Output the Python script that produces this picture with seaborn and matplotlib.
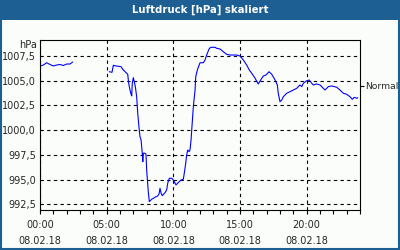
import numpy as np
import pandas as pd
import matplotlib
matplotlib.use("Agg")
import matplotlib.pyplot as plt
import matplotlib.transforms as mtransforms
from matplotlib.patches import Rectangle
import seaborn as sns

# --- data (hours since 08.02.18 00:00, pressure hPa) ---
seg1_hours = [0.05, 0.25, 0.5, 0.75, 1.0, 1.25, 1.5, 1.75, 2.0, 2.25, 2.45]
seg1_values = [1006.49, 1006.59, 1006.82, 1006.64, 1006.49, 1006.59, 1006.64,
               1006.54, 1006.69, 1006.69, 1006.89]

seg2_hours = [5.20, 5.40, 5.50, 5.70, 6.08, 6.20, 6.38, 6.58, 6.65, 6.75, 6.83,
              6.88, 6.92, 7.00, 7.07, 7.15, 7.25, 7.33, 7.43, 7.50, 7.58, 7.67,
              7.71, 7.75, 7.88, 7.95, 8.00, 8.12, 8.20, 8.38, 8.63, 8.83, 8.93,
              9.00, 9.08, 9.17, 9.38, 9.50, 9.58, 9.70, 9.88, 10.00, 10.20, 10.37,
              10.58, 10.75, 10.82, 10.93, 11.00, 11.08, 11.18, 11.25, 11.33, 11.38,
              11.50, 11.55, 11.63, 11.68, 11.80, 12.00, 12.25, 12.38, 12.50, 12.68,
              12.80, 13.13, 13.25, 13.50, 13.75, 14.00, 14.25, 14.50, 14.75, 15.00,
              15.25, 15.50, 15.70, 15.88, 16.13, 16.37, 16.55, 16.75, 16.95, 17.18,
              17.38, 17.63, 17.80, 17.87, 18.00, 18.13, 18.25, 18.50, 18.75, 19.00,
              19.25, 19.50, 19.63, 19.75, 20.00, 20.20, 20.38, 20.50, 20.75, 21.00,
              21.25, 21.38, 21.62, 21.88, 22.25, 22.50, 22.75, 23.00, 23.25, 23.42,
              23.57, 23.75, 23.83]
seg2_values = [1005.91, 1005.85, 1006.56, 1006.49, 1006.42, 1006.16, 1005.91,
               1005.65, 1004.74, 1004.06, 1003.63, 1003.46, 1004.74, 1005.31,
               1004.90, 1004.40, 1003.38, 1001.71, 1000.19, 999.34, 999.01, 997.66,
               996.81, 997.66, 997.66, 997.56, 995.97, 993.78, 992.77, 993.01,
               993.21, 993.34, 993.55, 994.12, 993.62, 993.37, 993.68, 993.95,
               994.63, 995.13, 995.13, 994.96, 994.46, 994.69, 994.96, 995.03,
               995.64, 996.65, 997.49, 997.99, 997.82, 997.99, 999.01, 1000.02,
               1002.37, 1003.05, 1004.06, 1005.41, 1006.08, 1006.82, 1006.82,
               1007.10, 1007.60, 1008.21, 1008.38, 1008.38, 1008.28, 1008.21,
               1007.93, 1007.67, 1007.60, 1007.60, 1007.60, 1007.50, 1007.10,
               1006.59, 1006.08, 1005.75, 1005.25, 1004.67, 1005.07, 1005.48,
               1005.58, 1005.91, 1005.65, 1005.07, 1004.57, 1003.73, 1002.88,
               1003.05, 1003.38, 1003.73, 1003.89, 1004.06, 1004.23, 1004.57,
               1004.40, 1004.74, 1005.00, 1005.07, 1004.74, 1004.57, 1004.67,
               1004.57, 1004.23, 1004.06, 1004.40, 1004.47, 1004.34, 1004.06,
               1003.73, 1003.63, 1003.38, 1003.12, 1003.32, 1003.22, 1003.28]

y_ticks = [992.5, 995.0, 997.5, 1000.0, 1002.5, 1005.0, 1007.5]
y_tick_labels = ["992,5", "995,0", "997,5", "1000,0", "1002,5", "1005,0", "1007,5"]
x_ticks = [0, 5, 10, 15, 20]
x_tick_labels = ["00:00\n08.02.18", "05:00\n08.02.18", "10:00\n08.02.18",
                 "15:00\n08.02.18", "20:00\n08.02.18"]
normal_value = 1004.47
title = "Luftdruck [hPa] skaliert"

df = pd.concat([
    pd.DataFrame({"h": seg1_hours, "p": seg1_values, "seg": 1}),
    pd.DataFrame({"h": seg2_hours, "p": seg2_values, "seg": 2}),
])

sns.set_style("white")
plt.rcParams["font.family"] = ["DejaVu Sans"]

fig = plt.figure(figsize=(4, 2.5), dpi=100)
fig.patch.set_facecolor("#fbfdfb")
ax = fig.add_axes([0.1, 0.16, 0.8, 0.68])
ax.set_facecolor("#fbfdfb")

sns.lineplot(data=df, x="h", y="p", units="seg", estimator=None,
             color="#0000ff", lw=0.8, ax=ax, sort=False)

ax.set_xlim(0, 24)
ax.set_ylim(991.92, 1009.12)
ax.set_xlabel("")
ax.set_ylabel("")
ax.set_yticks(y_ticks)
ax.set_yticklabels(y_tick_labels, fontsize=7)
ax.set_xticks(x_ticks)
ax.set_xticklabels(x_tick_labels, fontsize=7, linespacing=1.75)
ax.set_xticks(np.arange(0, 25, 1), minor=True)
ax.tick_params(axis="x", which="both", direction="out", length=3, width=0.8,
               bottom=True, color="black", pad=4)
ax.tick_params(axis="y", which="both", length=0, pad=3)
ax.grid(True, which="major", color="black", linestyle=(0, (3, 3)), lw=0.8)
for s in ax.spines.values():
    s.set_color("black")
    s.set_linewidth(0.8)

# Normal marker on right
ax2 = ax.twinx()
ax2.set_ylim(ax.get_ylim())
ax2.set_yticks([normal_value])
ax2.set_yticklabels(["Normal"], fontsize=6.6)
ax2.tick_params(axis="y", length=3, width=0.8, pad=0.5, color="black")
for s in ax2.spines.values():
    s.set_visible(False)

# hPa unit label
trans = mtransforms.blended_transform_factory(ax.transAxes, ax.transData)
ax.text(-0.008, 1008.6, "hPa", transform=trans, ha="right", va="center", fontsize=7)

# title bar and frame
bar_color = "#1d5f93"
fig.patches.append(Rectangle((0, 1 - 20 / 250), 1, 20 / 250, transform=fig.transFigure,
                             facecolor=bar_color, edgecolor="none", zorder=0))
fig.patches.append(Rectangle((0.002, 0.004), 0.995, 0.99, transform=fig.transFigure,
                             facecolor="none", edgecolor=bar_color, lw=1.5, zorder=5))
fig.text(0.5, 1 - 10 / 250, title, color="white", fontsize=7.3, fontweight="bold",
         ha="center", va="center")

fig.savefig("out.png", dpi=100, facecolor=fig.get_facecolor())
